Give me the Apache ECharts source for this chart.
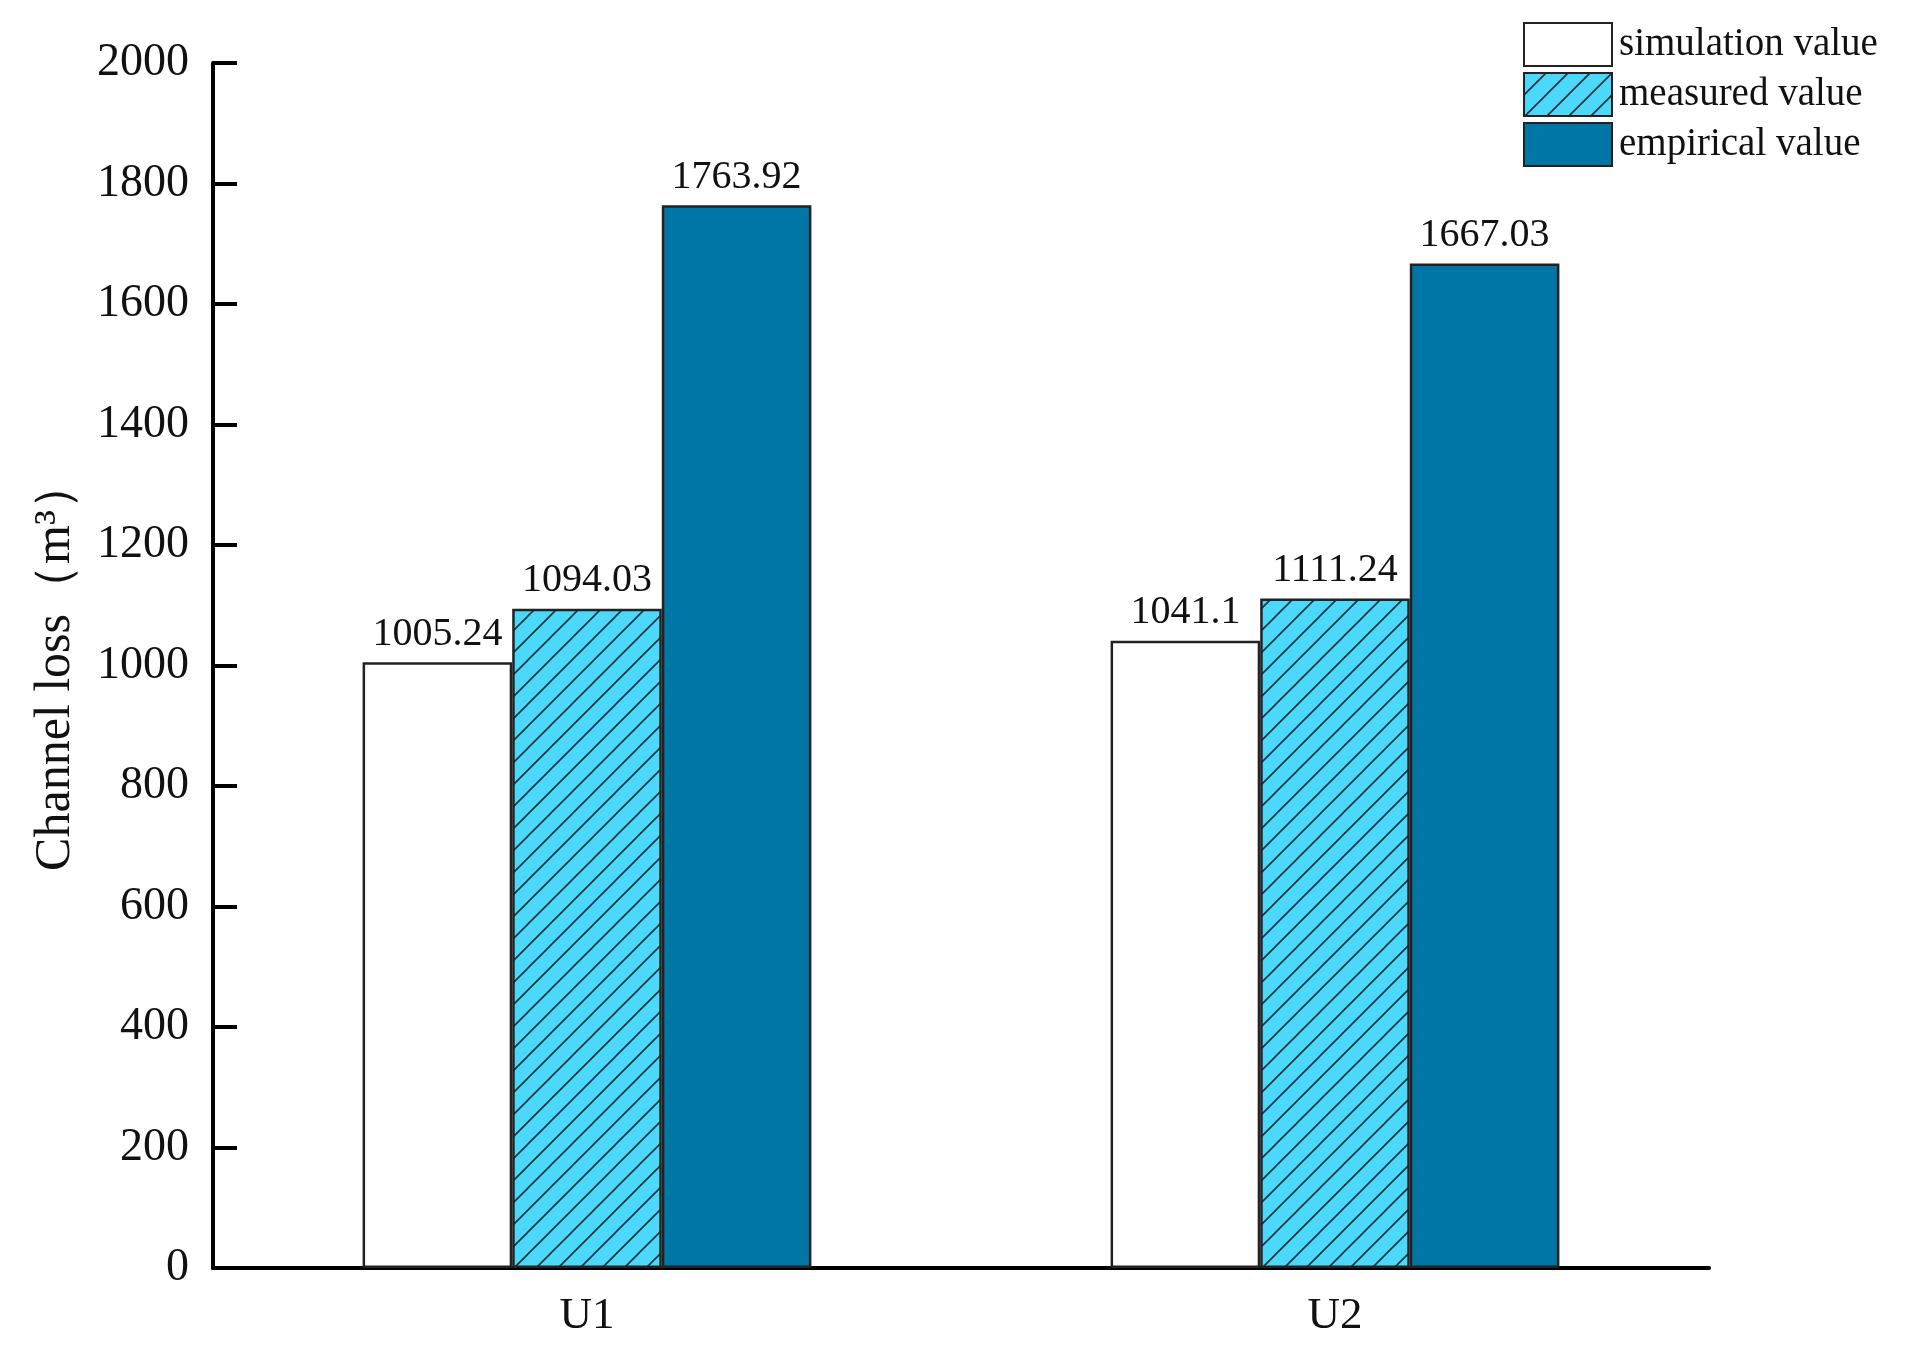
<!DOCTYPE html>
<html>
<head>
<meta charset="utf-8">
<script src="https://cdn.jsdelivr.net/npm/echarts@6/dist/echarts.min.js"></script>
<style>
  html, body { margin: 0; padding: 0; background: #fff; }
  #chart { width: 1910px; height: 1364px; }
</style>
</head>
<body>
<div id="chart"></div>
<script>
// data
const categories = ['U1', 'U2'];
const seriesNames = ['simulation value', 'measured value', 'empirical value'];
const simulationValues = [1005.24, 1041.1];
const measuredValues = [1094.03, 1111.24];
const empiricalValues = [1763.92, 1667.03];
const yTicks = [0, 200, 400, 600, 800, 1000, 1200, 1400, 1600, 1800, 2000];

const FONT = '"Liberation Serif", "Times New Roman", serif';

// diagonal hatch tile for the measured bars
function hatchPattern() {
  const s = 22;
  const c = document.createElement('canvas');
  c.width = s; c.height = s;
  const ctx = c.getContext('2d');
  ctx.fillStyle = '#4cd8fa';
  ctx.fillRect(0, 0, s, s);
  ctx.strokeStyle = '#1c3138';
  ctx.lineWidth = 1.6;
  ctx.beginPath();
  ctx.moveTo(-2, s + 2); ctx.lineTo(s + 2, -2);
  ctx.moveTo(-2, 2); ctx.lineTo(2, -2);
  ctx.moveTo(s - 2, s + 2); ctx.lineTo(s + 2, s - 2);
  ctx.stroke();
  return { image: c, repeat: 'repeat' };
}

const chart = echarts.init(document.getElementById('chart'));

const fills = ['#ffffff', hatchPattern(), '#0076a6'];
const values = [simulationValues, measuredValues, empiricalValues];

const option = {
  backgroundColor: '#fff',
  animation: false,
  grid: { left: 213, right: 201, top: 63, bottom: 96, containLabel: false },
  legend: {
    orient: 'vertical',
    left: 1518,
    top: 17,
    icon: 'rect',
    itemWidth: 88,
    itemHeight: 43,
    itemGap: 5,
    data: seriesNames,
    textStyle: { fontFamily: FONT, fontSize: 39, color: '#111', padding: [0, 0, 0, 2] }
  },
  xAxis: {
    type: 'category',
    data: categories,
    axisLine: { lineStyle: { color: '#000', width: 4 } },
    axisTick: { show: false },
    axisLabel: { fontFamily: FONT, fontSize: 45, color: '#111', margin: 26 }
  },
  yAxis: {
    type: 'value',
    min: yTicks[0],
    max: yTicks[yTicks.length - 1],
    interval: yTicks[1] - yTicks[0],
    name: 'Channel loss（m³）',
    nameLocation: 'middle',
    nameGap: 132,
    nameTextStyle: { fontFamily: FONT, fontSize: 50, color: '#111' },
    axisLine: { show: true, lineStyle: { color: '#000', width: 4 } },
    axisTick: { show: true, inside: true, length: 24, lineStyle: { color: '#000', width: 4 } },
    axisLabel: {
      fontFamily: FONT, fontSize: 46, color: '#111', margin: 24,
      formatter: v => String(v)
    },
    splitLine: { show: false }
  },
  series: seriesNames.map((name, i) => ({
    name: name,
    type: 'bar',
    data: values[i],
    barGap: '0%',
    barCategoryGap: '40%',
    itemStyle: {
      color: fills[i],
      borderColor: '#222',
      borderWidth: 2.5
    },
    label: {
      show: true,
      position: 'top',
      distance: 8,
      fontFamily: FONT,
      fontSize: 40,
      color: '#111'
    }
  }))
};

chart.setOption(option);
</script>
</body>
</html>
